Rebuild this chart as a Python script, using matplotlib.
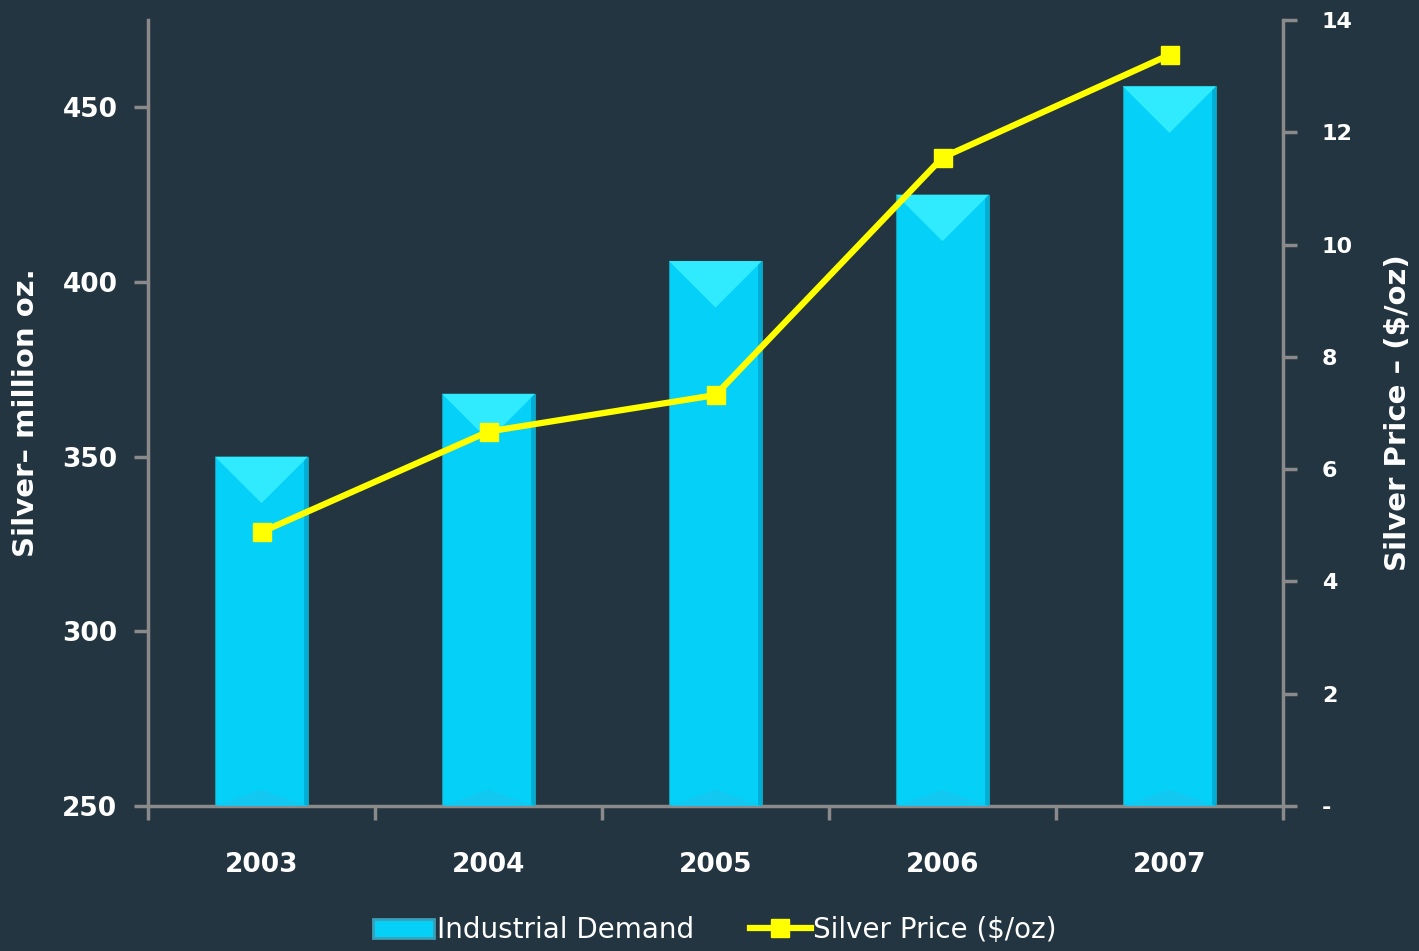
import matplotlib
matplotlib.use("Agg")
import matplotlib.pyplot as plt
from matplotlib.patches import Polygon, Patch
from matplotlib.lines import Line2D

# data
years = ["2003", "2004", "2005", "2006", "2007"]
demand = [350, 368, 406, 425, 456]          # industrial demand, million oz
price = [4.88, 6.67, 7.32, 11.55, 13.38]    # silver price, $/oz
left_ticks = [250, 300, 350, 400, 450]
right_ticks = [0, 2, 4, 6, 8, 10, 12, 14]
right_labels = ["-", "2", "4", "6", "8", "10", "12", "14"]

BG = "#233540"
CYAN = "#04d0f8"
LIGHT = "#30eafd"
DARK = "#00aed6"
YELLOW = "#ffff00"
GREY = "#8a8a8a"

plt.rcParams["font.family"] = "DejaVu Sans"

fig = plt.figure(figsize=(14.19, 9.51), dpi=100, facecolor=BG)
ax = fig.add_axes([148 / 1419, 145 / 951, 1135 / 1419, 786 / 951])
ax.set_facecolor(BG)

x = list(range(len(years)))
bar_w = 0.41
ax.set_xlim(-0.5, len(years) - 0.5)
ax.set_ylim(250, 475)

ax.bar(x, [d - 250 for d in demand], bottom=250, width=bar_w, color=CYAN,
       edgecolor="#1b9cb0", linewidth=0.8, zorder=2)

# bevel: height in data units matching half the bar width on screen
px_x = ax.bbox.width / (ax.get_xlim()[1] - ax.get_xlim()[0])
px_y = ax.bbox.height / (ax.get_ylim()[1] - ax.get_ylim()[0])
bev = (bar_w / 2) * px_x / px_y
edge = 4 / px_x
for xi, d in zip(x, demand):
    l, r = xi - bar_w / 2, xi + bar_w / 2
    ax.add_patch(Polygon([(l, d), (r, d), (xi, d - bev)], closed=True,
                         facecolor=LIGHT, edgecolor="none", zorder=3))
    ax.add_patch(Polygon([(r - edge, 250), (r, 250), (r, d), (r - edge, d - edge * px_x / px_y)],
                         closed=True, facecolor=DARK, edgecolor="none", zorder=3))
    ax.add_patch(Polygon([(l, 250), (r, 250), (xi, 250 + bev * 0.35)], closed=True,
                         facecolor="#12c8f0", edgecolor="none", zorder=3))

ax2 = ax.twinx()
ax2.set_ylim(0, 14)
ax2.plot(x, price, color=YELLOW, linewidth=4.5, marker="s", markersize=13,
         zorder=5)

# spines and ticks
for a in (ax, ax2):
    a.spines["top"].set_visible(False)
    for s in ("left", "right", "bottom"):
        a.spines[s].set_color(GREY)
        a.spines[s].set_linewidth(2.5)
ax.spines["right"].set_visible(False)
ax2.spines["left"].set_visible(False)
ax2.spines["bottom"].set_visible(False)

ax.set_yticks(left_ticks)
ax.set_yticklabels([str(t) for t in left_ticks], fontweight="bold")
ax.tick_params(axis="y", colors=GREY, labelcolor="white", labelsize=19,
               length=10, width=2.5, pad=12)
ax.set_xticks([i - 0.5 for i in range(len(years) + 1)], minor=False)
ax.set_xticklabels([])
ax.set_xticks(x, minor=True)
ax.set_xticklabels(years, minor=True, fontweight="bold")
ax.tick_params(axis="x", which="major", colors=GREY, direction="out",
               length=10, width=2.5)
ax.tick_params(axis="x", which="minor", length=0, labelcolor="white",
               labelsize=19, pad=33)

ax2.set_yticks(right_ticks)
ax2.set_yticklabels(right_labels, fontweight="bold")
ax2.tick_params(axis="y", colors=GREY, labelcolor="white", labelsize=16,
                length=10, width=2.5, pad=18)

ax.set_ylabel("Silver\u2013 million oz.", color="white", fontsize=21,
              fontweight="bold", labelpad=16)
ax2.set_ylabel("Silver Price \u2013 ($/oz)", color="white", fontsize=21,
               fontweight="bold", rotation=90, labelpad=22)

handles = [Patch(facecolor=CYAN, edgecolor="#3aa0b8", linewidth=2),
           Line2D([0], [0], color=YELLOW, linewidth=4.5, marker="s", markersize=13)]
fig.legend(handles, ["Industrial Demand", "Silver Price ($/oz)"],
           loc="center", bbox_to_anchor=(715 / 1419, 1 - 930 / 951), ncol=2,
           frameon=False, fontsize=20, labelcolor="white", handlelength=2.2,
           handletextpad=0.1, columnspacing=2.0)

fig.savefig("out.png", dpi=100, facecolor=BG)
